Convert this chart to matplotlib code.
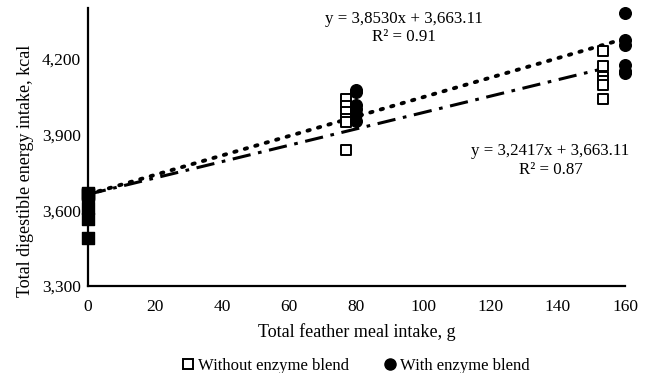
import numpy as np
import matplotlib.pyplot as plt
from matplotlib.lines import Line2D

plt.rcParams['font.family'] = ['Liberation Serif', 'DejaVu Serif']

# control birds (no feather meal)
x_control = [0, 0, 0, 0, 0, 0]
y_control = [3670, 3660, 3665, 3610, 3565, 3490]

# without enzyme blend
x_without = [77, 77, 77, 77, 77, 77, 153.6, 153.6, 153.6, 153.6, 153.6, 153.6]
y_without = [4040, 4012, 3988, 3962, 3948, 3840, 4232, 4172, 4129, 4113, 4097, 4041]

# with enzyme blend
x_with = [80, 80, 80, 80, 80, 80, 160, 160, 160, 160, 160, 160]
y_with = [4078, 4068, 4018, 4002, 3980, 3955, 4382, 4275, 4256, 4176, 4142, 4150]

# trend lines as given by the equations on the chart
slope_without, icpt_without, r2_without = 3.2417, 3663.11, 0.87
slope_with, icpt_with, r2_with = 3.8530, 3663.11, 0.91

xticks = [0, 20, 40, 60, 80, 100, 120, 140, 160]
yticks = [3300, 3600, 3900, 4200]

fig = plt.figure(figsize=(6.51, 3.73), dpi=100)
ax = fig.add_axes([0.135, 0.233, 0.825, 0.745])

xw = np.array([0, 153.6])
ax.plot(xw, slope_without * xw + icpt_without, color='black', lw=2.2,
        linestyle=(0, (6, 2.5, 1.2, 2.5)), zorder=2)
xe = np.array([0, 160])
ax.plot(xe, slope_with * xe + icpt_with, color='black', lw=2.8,
        linestyle=(0, (0.6, 2.2)), dash_capstyle='round', zorder=2)

ax.scatter(x_without, y_without, marker='s', s=50, facecolor='white',
           edgecolor='black', linewidth=1.4, zorder=3, clip_on=False)
ax.scatter(x_with, y_with, marker='o', s=70, color='black', zorder=4, clip_on=False)
ax.scatter(x_control, y_control, marker='s', s=80, color='black', zorder=4,
           clip_on=False)

ax.set_xlim(0, 160)
ax.set_ylim(3300, 4400)
ax.set_xticks(xticks)
ax.set_yticks(yticks)
ax.set_yticklabels([f"{v:,}" for v in yticks])
ax.tick_params(length=0, labelsize=12.5)
ax.tick_params(axis='x', pad=9)
ax.tick_params(axis='y', pad=5)
for side in ['top', 'right']:
    ax.spines[side].set_visible(False)
for side in ['left', 'bottom']:
    ax.spines[side].set_linewidth(1.6)

ax.set_xlabel("Total feather meal intake, g", fontsize=13, labelpad=6)
ax.set_ylabel("Total digestible energy intake, kcal", fontsize=13)
ax.yaxis.set_label_coords(-0.10, 0.414)

ax.text(94.3, 4322, "y = 3,8530x + 3,663.11\nR² = 0.91", ha='center', va='center',
        fontsize=12.2, linespacing=1.2)
ax.text(137.8, 3797, "y = 3,2417x + 3,663.11\nR² = 0.87", ha='center', va='center',
        fontsize=12.2, linespacing=1.2)

handles = [
    Line2D([], [], marker='s', linestyle='none', markersize=7.5,
           markerfacecolor='white', markeredgecolor='black', markeredgewidth=1.4),
    Line2D([], [], marker='o', linestyle='none', markersize=8, color='black'),
]
fig.legend(handles, ["Without enzyme blend", "With enzyme blend"],
           loc='lower center', bbox_to_anchor=(0.545, -0.043), ncol=2, frameon=False,
           fontsize=12, handletextpad=0.1, columnspacing=2.0, handlelength=1.0)

fig.savefig("out.png", dpi=100)
